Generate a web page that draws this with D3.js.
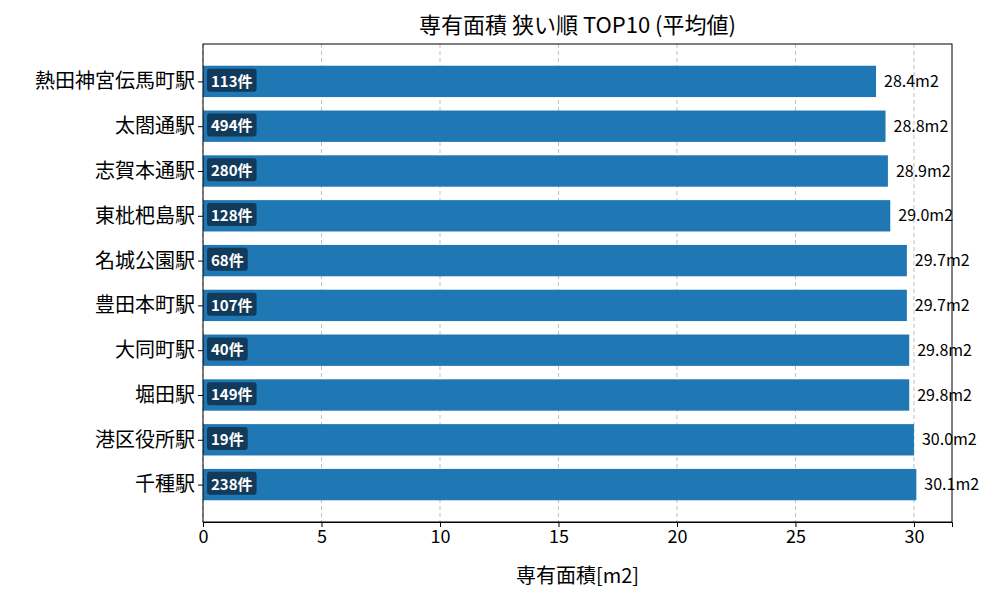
<!DOCTYPE html>
<html><head><meta charset="utf-8">
<script src="https://cdn.jsdelivr.net/npm/d3@7"></script>
<style>body{margin:0;background:#fff}text{font-family:"Noto Sans CJK JP","Noto Sans",sans-serif}</style>
</head><body><div id="chart"></div>
<script>
const stations = ["熱田神宮伝馬町駅","太閤通駅","志賀本通駅","東枇杷島駅","名城公園駅","豊田本町駅","大同町駅","堀田駅","港区役所駅","千種駅"];
const areas = [28.4, 28.8, 28.9, 29.0, 29.7, 29.7, 29.8, 29.8, 30.0, 30.1];
const counts = [113, 494, 280, 128, 68, 107, 40, 149, 19, 238];
const xTicks = [0, 5, 10, 15, 20, 25, 30];

const mLeft = 203, mRight = 952, mTop = 44, mBottom = 522;
const svg = d3.select("#chart").append("svg").attr("width", 1000).attr("height", 600);

const x = d3.scaleLinear().domain([0, d3.max(areas) * 1.05]).range([mLeft, mRight]);
const y = d3.scaleLinear().domain([-0.835, 9.835]).range([mTop, mBottom]);
const bh = y(0.35) - y(-0.35);

svg.append("g").selectAll("line").data(xTicks).enter().append("line")
    .attr("x1", d => x(d)).attr("x2", d => x(d)).attr("y1", mTop).attr("y2", mBottom)
    .attr("stroke", "#b0b0b0").attr("stroke-dasharray", "4,3").attr("stroke-width", 0.8);

svg.append("g").selectAll("rect").data(areas).enter().append("rect")
    .attr("x", x(0)).attr("y", (d, i) => y(i) - bh / 2)
    .attr("width", d => x(d) - x(0)).attr("height", bh).attr("fill", "#1f77b4");

svg.append("g").selectAll("text").data(areas).enter().append("text")
    .attr("x", d => x(d) + 8).attr("y", (d, i) => y(i)).attr("dy", "0.35em")
    .attr("font-size", 16).text(d => d.toFixed(1) + "m2");

const badge = svg.append("g").selectAll("g").data(counts).enter().append("g");
badge.append("text")
    .attr("x", x(0) + 8).attr("y", (d, i) => y(i)).attr("dy", "0.35em")
    .attr("font-size", 15).attr("font-weight", "bold").attr("fill", "#fff")
    .text(d => d + "件")
    .each(function() {
        const b = this.getBBox();
        d3.select(this.parentNode).insert("rect", "text")
            .attr("x", b.x - 4).attr("y", b.y - 1).attr("width", b.width + 8).attr("height", b.height + 2)
            .attr("rx", 3).attr("fill", "#123a5a");
    });

svg.append("g").attr("transform", `translate(0,${mBottom})`)
    .call(d3.axisBottom(x).tickValues(xTicks).tickSizeOuter(0).tickSize(5))
    .call(g => g.selectAll("text").attr("font-size", 18).attr("fill", "#000"));
svg.append("g").attr("transform", `translate(${mLeft},0)`)
    .call(d3.axisLeft(y).tickValues(d3.range(10)).tickFormat(i => stations[i]).tickSize(5))
    .call(g => g.selectAll("text").attr("font-size", 20).attr("fill", "#000"))
    .call(g => g.select(".domain").remove());

svg.append("rect").attr("x", mLeft).attr("y", mTop).attr("width", mRight - mLeft).attr("height", mBottom - mTop)
    .attr("fill", "none").attr("stroke", "#000").attr("stroke-width", 1);

svg.append("text").attr("x", (mLeft + mRight) / 2).attr("y", 33).attr("text-anchor", "middle")
    .attr("font-size", 22).text("専有面積 狭い順 TOP10 (平均値)");
svg.append("text").attr("x", (mLeft + mRight) / 2).attr("y", 583).attr("text-anchor", "middle")
    .attr("font-size", 20).text("専有面積[m2]");
</script></body></html>
